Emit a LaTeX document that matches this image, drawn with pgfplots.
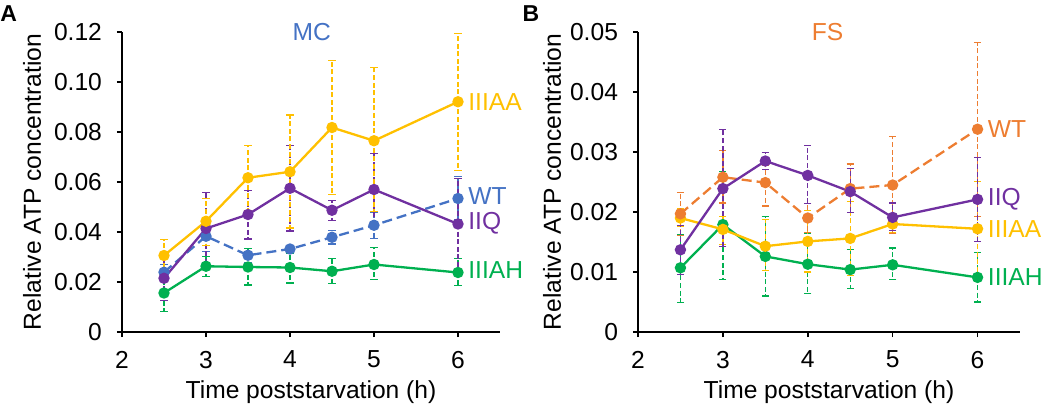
\documentclass[border=0pt]{standalone}
\usepackage{pgfplots}
\pgfplotsset{compat=1.18}
\usepackage{pgfplotstable}
\usepackage{fontspec}
\setmainfont{Liberation Sans}
\definecolor{cYel}{HTML}{FFC000}
\definecolor{cPur}{HTML}{7030A0}
\definecolor{cBlu}{HTML}{4472C4}
\definecolor{cGrn}{HTML}{00B050}
\definecolor{cOra}{HTML}{ED7D31}

% Panel A (MC)
\pgfplotstableread{
x y ep em
2.5 0.0306 0.0064 0.0064
3 0.0443 0.0091 0.0097
3.5 0.0617 0.0129 0.0130
4 0.0641 0.0227 0.0225
4.5 0.0818 0.0267 0.0268
5 0.0765 0.0293 0.0282
6 0.0921 0.0272 0.0274
}\AaIIIAA
\pgfplotstableread{
x y ep em
2.5 0.0215 0.0088 0.0088
3 0.0414 0.0143 0.0143
3.5 0.0470 0.0095 0.0098
4 0.0575 0.0171 0.0171
4.5 0.0487 0.0038 0.0040
5 0.0570 0.0144 0.0144
6 0.0432 0.0181 0.0181
}\AaIIQ
\pgfplotstableread{
x y ep em
2.5 0.0239 0.0030 0.0030
3 0.0383 0.0060 0.0060
3.5 0.0307 0.0028 0.0028
4 0.0332 0.0012 0.0012
4.5 0.0379 0.0027 0.0027
5 0.0427 0.0050 0.0052
6 0.0534 0.0087 0.0084
}\AaWT
\pgfplotstableread{
x y ep em
2.5 0.0156 0.0074 0.0073
3 0.0263 0.0040 0.0040
3.5 0.0260 0.0075 0.0072
4 0.0258 0.0058 0.0062
4.5 0.0243 0.0052 0.0048
5 0.0270 0.0068 0.0060
6 0.0238 0.0057 0.0052
}\AaIIIAH

% Panel B (FS)
\pgfplotstableread{
x y ep em
2.5 0.0197 0.0036 0.0036
3 0.0258 0.0045 0.0043
3.5 0.0249 0.0029 0.0039
4 0.0190 0.0024 0.0024
4.5 0.0239 0.0041 0.0040
5 0.0245 0.0081 0.0081
6 0.0338 0.0145 0.0145
}\BbWT
\pgfplotstableread{
x y ep em
2.5 0.0137 0.0041 0.0041
3 0.0239 0.0099 0.0096
3.5 0.0285 0.0014 0.0014
4 0.0261 0.0050 0.0047
4.5 0.0234 0.0039 0.0035
5 0.0191 0.0024 0.0022
6 0.0221 0.0070 0.0070
}\BbIIQ
\pgfplotstableread{
x y ep em
2.5 0.0190 0.0015 0.0014
3 0.0171 0.0022 0.0025
3.5 0.0143 0.0044 0.0041
4 0.0151 0.0052 0.0051
4.5 0.0156 0.0061 0.0062
5 0.0180 0.0015 0.0015
6 0.0172 0.0079 0.0078
}\BbIIIAA
\pgfplotstableread{
x y ep em
2.5 0.0107 0.0055 0.0058
3 0.0179 0.0089 0.0092
3.5 0.0126 0.0067 0.0066
4 0.0113 0.0052 0.0049
4.5 0.0104 0.0034 0.0031
5 0.0112 0.0028 0.0024
6 0.0091 0.0041 0.0041
}\BbIIIAH

\tikzset{lab/.style={anchor=west, inner sep=1pt, xshift=4pt, font=\fontsize{12.3}{14}\selectfont, text=#1}}
\pgfplotsset{
  panel/.style={
    scale only axis, height=150pt,
    axis lines=left, axis line style={-, line width=0.8pt},
    tick style={line width=0.8pt, black}, tick align=outside, major tick length=2.5pt,
    xmin=2, xmax=6.5, xtick={2,3,4,5,6},
    ymin=0, clip=false,
    /pgf/number format/assume math mode=true,
    tick label style={font=\fontsize{12.3}{14}\selectfont},
    yticklabel style={xshift=-4pt},
    xticklabel style={yshift=-3.5pt},
    label style={font=\fontsize{12.3}{14}\selectfont},
    xlabel={Time poststarvation (h)},
    ylabel={Relative ATP concentration},
    xlabel style={at={(axis description cs:0.5,-0.2)}, anchor=center},
    scaled y ticks=false,
  },
  ser/.style={color=#1, line width=1.15pt, mark=*, mark size=2.25pt,
    mark options={solid, fill=#1},
    error bars/y dir=both, error bars/y explicit,
    error bars/error bar style={line width=0.65pt, dash pattern=on 2.5pt off 1.3pt},
    error bars/error mark=-,
    error bars/error mark options={solid, rotate=90, line width=0.65pt, mark size=1.8pt, color=#1}},
}

\begin{document}
\begin{tikzpicture}
\useasboundingbox (-61pt,-38pt) rectangle (464pt,166pt);
\begin{axis}[panel, at={(0pt,0pt)}, anchor=south west, width=189pt,
  ymax=0.12, ytick={0,0.02,0.04,0.06,0.08,0.10,0.12},
  yticklabels={0,0.02,0.04,0.06,0.08,0.10,0.12},
  ylabel style={at={(axis description cs:-0.238,0.5)}, anchor=center}]
\addplot[ser=cBlu, dash pattern=on 5pt off 2.5pt] table[x=x,y=y,y error plus=ep,y error minus=em]{\AaWT};
\addplot[ser=cGrn] table[x=x,y=y,y error plus=ep,y error minus=em]{\AaIIIAH};
\addplot[ser=cPur] table[x=x,y=y,y error plus=ep,y error minus=em]{\AaIIQ};
\addplot[ser=cYel] table[x=x,y=y,y error plus=ep,y error minus=em]{\AaIIIAA};
\node[lab=cYel] at (axis cs:6,0.0921) {IIIAA};
\node[lab=cBlu] at (axis cs:6,0.0543) {WT};
\node[lab=cPur] at (axis cs:6,0.0434) {IIQ};
\node[lab=cGrn] at (axis cs:6,0.0247) {IIIAH};
\node[font=\fontsize{12.3}{14}\selectfont, text=cBlu] at (axis description cs:0.502,1) {MC};
\node[font=\fontsize{11.5}{13}\selectfont\bfseries] at (axis description cs:-0.30,1.062) {A};
\end{axis}
\begin{axis}[panel, at={(258pt,0pt)}, anchor=south west, width=191pt,
  ymax=0.05, ytick={0,0.01,0.02,0.03,0.04,0.05},
  yticklabels={0,0.01,0.02,0.03,0.04,0.05},
  ylabel style={at={(axis description cs:-0.225,0.5)}, anchor=center}]
\addplot[ser=cGrn] table[x=x,y=y,y error plus=ep,y error minus=em]{\BbIIIAH};
\addplot[ser=cYel] table[x=x,y=y,y error plus=ep,y error minus=em]{\BbIIIAA};
\addplot[ser=cOra, dash pattern=on 5pt off 2.5pt] table[x=x,y=y,y error plus=ep,y error minus=em]{\BbWT};
\addplot[ser=cPur] table[x=x,y=y,y error plus=ep,y error minus=em]{\BbIIQ};
\node[lab=cOra] at (axis cs:6,0.0338) {WT};
\node[lab=cPur] at (axis cs:6,0.0221) {IIQ};
\node[lab=cYel] at (axis cs:6,0.0172) {IIIAA};
\node[lab=cGrn] at (axis cs:6,0.0091) {IIIAH};
\node[font=\fontsize{12.3}{14}\selectfont, text=cOra] at (axis description cs:0.496,1) {FS};
\node[font=\fontsize{11.5}{13}\selectfont\bfseries] at (axis description cs:-0.28,1.062) {B};
\end{axis}
\end{tikzpicture}
\end{document}
